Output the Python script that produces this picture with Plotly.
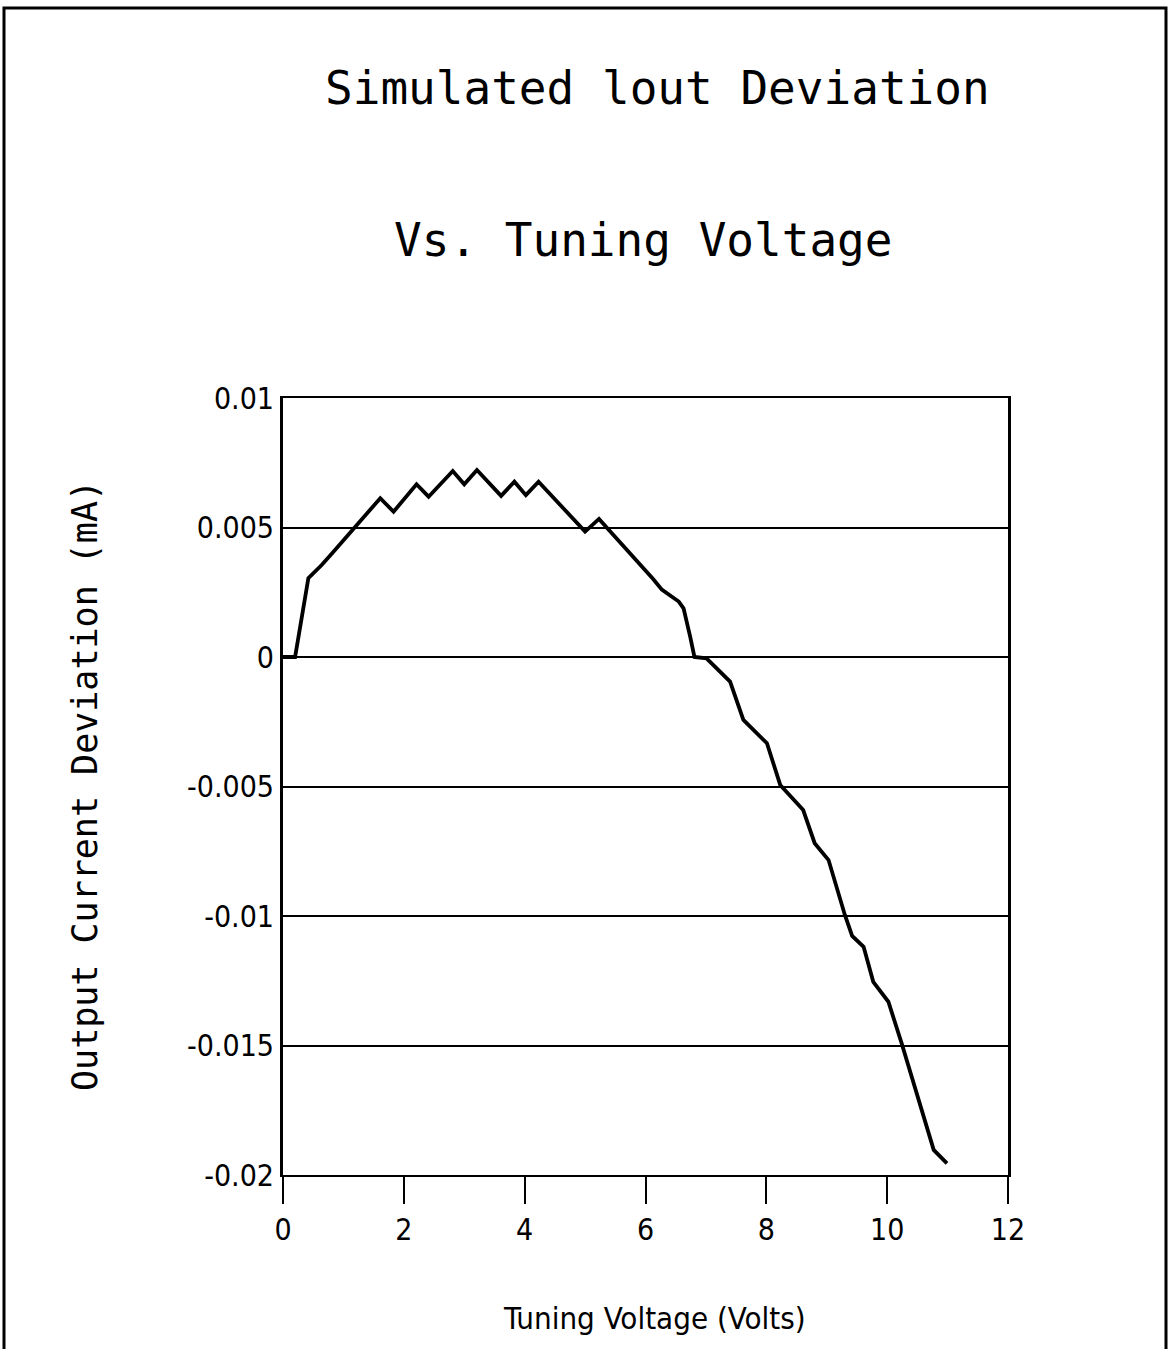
import plotly.graph_objects as go

# Tuning voltage (V) and simulated output current deviation (mA)
tuning_v = [0.0, 0.2, 0.42, 0.64, 0.81, 1.61, 1.83, 2.21, 2.41, 2.81, 3.0, 3.21,
            3.61, 3.83, 4.02, 4.23, 5.0, 5.23, 6.13, 6.27, 6.55, 6.63, 6.74, 6.81,
            7.01, 7.15, 7.40, 7.62, 8.01, 8.23, 8.61, 8.80, 9.03, 9.30, 9.42, 9.61,
            9.77, 10.02, 10.24, 10.77, 10.99]
iout_dev = [0.0, 0.0, 0.00304, 0.00355, 0.0040, 0.00613, 0.00561, 0.00667, 0.00619,
            0.00718, 0.00667, 0.00722, 0.00622, 0.00677, 0.00625, 0.00677, 0.00484,
            0.00533, 0.0030, 0.0026, 0.00214, 0.00188, 0.00078, 0.0, -0.00005,
            -0.00037, -0.00095, -0.00243, -0.00333, -0.00494, -0.00591, -0.00719,
            -0.00784, -0.00996, -0.01077, -0.01119, -0.01254, -0.01331, -0.01492,
            -0.01903, -0.01955]

x_ticks = [0, 2, 4, 6, 8, 10, 12]
y_ticks = [-0.02, -0.015, -0.01, -0.005, 0, 0.005, 0.01]
y_tick_text = ["-0.02", "-0.015", "-0.01", "-0.005", "0", "0.005", "0.01"]

W, H = 1171, 1349
NARROW = "Liberation Sans Narrow, DejaVu Sans Condensed, Arial Narrow, sans-serif"
MONO = "DejaVu Sans Mono, monospace"

fig = go.Figure()
fig.add_trace(go.Scatter(x=tuning_v, y=iout_dev, mode="lines",
                         line=dict(color="black", width=3.8),
                         showlegend=False, hoverinfo="skip"))

fig.update_layout(
    width=W, height=H,
    margin=dict(l=0, r=0, t=0, b=0, pad=0, autoexpand=False),
    paper_bgcolor="white", plot_bgcolor="white",
    xaxis=dict(domain=[283 / W, 1008 / W], range=[0, 12], tickvals=x_ticks,
               automargin=False,
               showgrid=False, zeroline=False, showline=True, linecolor="black",
               linewidth=2, mirror=True, ticks="outside", ticklen=27,
               tickwidth=2, tickcolor="black",
               tickfont=dict(family=NARROW, size=30, color="black")),
    yaxis=dict(domain=[1 - 1175 / H, 1 - 398 / H], range=[-0.02, 0.01],
               tickvals=y_ticks, ticktext=y_tick_text, automargin=False,
               showgrid=True, gridcolor="black", gridwidth=2, zeroline=False,
               showline=True, linecolor="black", linewidth=3, mirror=True,
               ticks="", ticklabelstandoff=0,
               tickfont=dict(family=NARROW, size=30, color="black")),
)

annotations = [
    dict(text="Simulated lout Deviation", x=657 / W, y=1 - 88 / H,
         font=dict(family=MONO, size=46, color="black")),
    dict(text="Vs. Tuning Voltage", x=644 / W, y=1 - 240 / H,
         font=dict(family=MONO, size=46, color="black")),
    dict(text="Tuning Voltage (Volts)", x=654 / W, y=1 - 1318 / H,
         font=dict(family=NARROW, size=31, color="black")),
    dict(text="Output Current Deviation (mA)", x=85 / W, y=1 - 786 / H,
         textangle=-90, font=dict(family=MONO, size=35, color="black")),
]
for a in annotations:
    a.update(xref="paper", yref="paper", showarrow=False,
             xanchor="center", yanchor="middle")
fig.update_layout(annotations=annotations)

# Outer page frame
fig.add_shape(type="rect", xref="paper", yref="paper",
              x0=4 / W, x1=1166 / W, y0=-0.01, y1=1 - 8 / H,
              line=dict(color="black", width=3), layer="above")

fig.write_html(
    "out.html",
    post_script="document.body.style.margin='0';",
)
